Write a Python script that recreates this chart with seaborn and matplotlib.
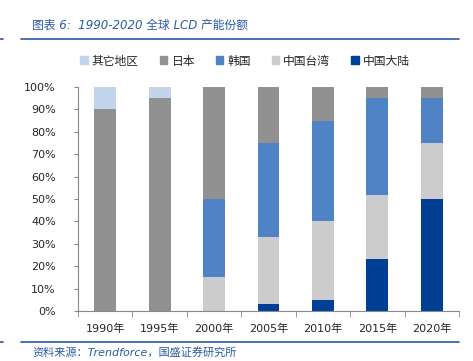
import numpy as np
import pandas as pd
import matplotlib
matplotlib.use('Agg')
import matplotlib.pyplot as plt
import seaborn as sns
from matplotlib.patches import Patch
from matplotlib.ticker import FixedLocator

# data (share of global LCD capacity, %)
years = ['1990年', '1995年', '2000年', '2005年', '2010年', '2015年', '2020年']
mainland = [0, 0, 0, 3, 5, 23, 50]
taiwan = [0, 0, 15, 30, 35, 29, 25]
korea = [0, 0, 35, 42, 45, 43, 20]
japan = [90, 95, 50, 25, 15, 5, 5]
others = [10, 5, 0, 0, 0, 0, 0]

series = ['其它地区', '日本', '韩国', '中国台湾', '中国大陆']
colors = {'其它地区': '#c3d5ec', '日本': '#919191', '韩国': '#4f83c6',
          '中国台湾': '#cccccc', '中国大陆': '#003f94'}

df = pd.DataFrame({'year': years, '中国大陆': mainland, '中国台湾': taiwan,
                   '韩国': korea, '日本': japan, '其它地区': others})
# cumulative tops, bottom -> top
stack_order = ['中国大陆', '中国台湾', '韩国', '日本', '其它地区']
cum = df[stack_order].cumsum(axis=1)

sns.set_style('white')
plt.rcParams['font.family'] = ['DejaVu Sans', 'Noto Sans CJK SC']

fig = plt.figure(figsize=(4.73, 3.61), dpi=100)
ax = fig.add_axes([78/473, 1 - 311/361, (459 - 78)/473, (311 - 87)/361])

# draw from the tallest cumulative layer down so lower layers overlay
for name in reversed(stack_order):
    sns.barplot(x=df['year'], y=cum[name], color=colors[name], width=0.4,
                saturation=1, ax=ax, linewidth=0)

ax.set_ylim(0, 100)
ax.set_xlim(-0.5, len(years) - 0.5)
ax.set_yticks(np.arange(0, 101, 10))
ax.set_yticklabels([f'{v}%' for v in range(0, 101, 10)], fontsize=8)
ax.set_xticks(range(len(years)))
ax.set_xticklabels(years, fontsize=8)
ax.xaxis.set_minor_locator(FixedLocator(np.arange(-0.5, len(years), 1)))
ax.tick_params(axis='x', which='major', length=0, pad=9)
ax.tick_params(axis='x', which='minor', length=4, color='#888888', direction='out', bottom=True)
ax.tick_params(axis='y', length=3, color='#888888', direction='out', left=True, pad=13)
ax.set_xlabel('')
ax.set_ylabel('')
for s in ['top', 'right']:
    ax.spines[s].set_visible(False)
for s in ['left', 'bottom']:
    ax.spines[s].set_color('#888888')
    ax.spines[s].set_linewidth(0.8)

handles = [Patch(color=colors[n]) for n in series]
fig.legend(handles, series, loc='center', bbox_to_anchor=(245/473, 1 - 61/361),
           ncol=5, frameon=False, fontsize=8.5, handlelength=0.65, handleheight=0.65,
           handletextpad=0.35, columnspacing=1.75)

blue = '#2a5aa8'
fig.text(32/473, 1 - 25/361, '图表 6:  1990-2020 全球 LCD 产能份额', color=blue,
         fontsize=8.5, style='italic', va='center', ha='left')
fig.add_artist(plt.Line2D([21/473, 459/473], [1 - 39/361, 1 - 39/361], color=blue, lw=1.2))
fig.add_artist(plt.Line2D([0, 3/473], [1 - 39/361, 1 - 39/361], color=blue, lw=1.2))
fig.add_artist(plt.Line2D([21/473, 459/473], [1 - 342/361, 1 - 342/361], color=blue, lw=1.2))
fig.add_artist(plt.Line2D([0, 3/473], [1 - 342/361, 1 - 342/361], color=blue, lw=1.2))
fig.text(32/473, 1 - 352/361, '资料来源：Trendforce，国盛证券研究所', color=blue,
         fontsize=8, style='italic', va='center', ha='left')

fig.savefig('out.png', dpi=100)
